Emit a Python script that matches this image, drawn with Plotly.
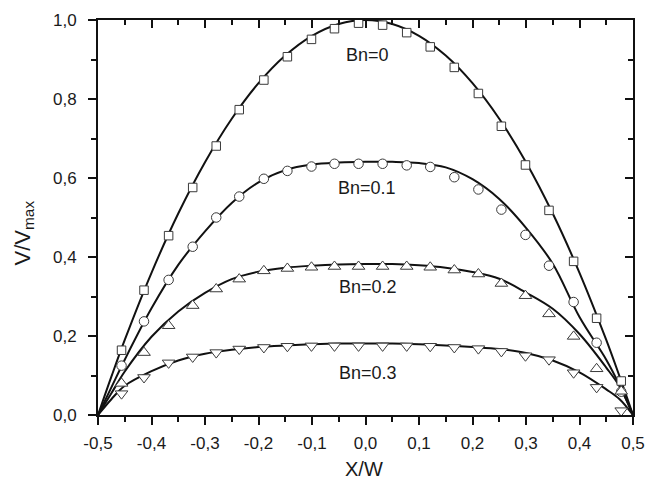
import plotly.graph_objects as go

# ---- measured marker data ----
x_pts = [-0.456, -0.414, -0.368, -0.323, -0.279, -0.236, -0.190, -0.146, -0.101, -0.058, -0.013,
         0.032, 0.077, 0.121, 0.166, 0.211, 0.254, 0.299, 0.343, 0.389, 0.432, 0.478]
bn0_pts = [0.164, 0.316, 0.454, 0.576, 0.681, 0.773, 0.848, 0.907, 0.951, 0.978, 0.992,
           0.987, 0.968, 0.932, 0.880, 0.814, 0.731, 0.633, 0.518, 0.389, 0.245, 0.086]
bn01_pts = [0.125, 0.237, 0.342, 0.426, 0.500, 0.553, 0.598, 0.618, 0.629, 0.636, 0.636,
            0.636, 0.632, 0.628, 0.602, 0.571, 0.520, 0.456, 0.378, 0.286, 0.183, 0.059]
bn02_pts = [0.080, 0.158, 0.226, 0.277, 0.319, 0.344, 0.365, 0.371, 0.374, 0.376, 0.376,
            0.376, 0.376, 0.374, 0.367, 0.357, 0.333, 0.302, 0.256, 0.199, 0.117, 0.060]
bn03_pts = [0.054, 0.095, 0.132, 0.147, 0.158, 0.167, 0.171, 0.174, 0.175, 0.175, 0.175,
            0.175, 0.175, 0.174, 0.171, 0.168, 0.161, 0.150, 0.140, 0.107, 0.070, 0.011]

# ---- measured curve data ----
x_curve = [-0.5, -0.475, -0.45, -0.4, -0.35, -0.3, -0.25, -0.2, -0.15, -0.1, -0.05, 0.0,
           0.05, 0.1, 0.15, 0.2, 0.25, 0.3, 0.35, 0.4, 0.45, 0.475, 0.5]
bn0_curve = [0.0, 0.097, 0.19, 0.36, 0.51, 0.64, 0.75, 0.84, 0.91, 0.96, 0.99, 1.0,
             0.99, 0.96, 0.91, 0.84, 0.75, 0.64, 0.51, 0.36, 0.19, 0.097, 0.0]
bn01_curve = [0.0, 0.07, 0.14, 0.27, 0.38, 0.465, 0.537, 0.589, 0.62, 0.634, 0.639, 0.641,
              0.641, 0.638, 0.627, 0.597, 0.547, 0.474, 0.383, 0.248, 0.14, 0.075, 0.0]
bn02_curve = [0.0, 0.055, 0.11, 0.198, 0.262, 0.309, 0.344, 0.363, 0.373, 0.378, 0.381, 0.382,
              0.382, 0.379, 0.373, 0.362, 0.345, 0.31, 0.269, 0.205, 0.12, 0.072, 0.0]
bn03_curve = [0.0, 0.04, 0.074, 0.111, 0.138, 0.155, 0.165, 0.172, 0.176, 0.179, 0.181, 0.181,
              0.181, 0.179, 0.176, 0.172, 0.167, 0.157, 0.138, 0.108, 0.065, 0.04, 0.0]

labels = ["Bn=0", "Bn=0.1", "Bn=0.2", "Bn=0.3"]
label_x = [0.004, 0.002, 0.004, 0.004]
label_y = [0.911, 0.574, 0.323, 0.107]

x_tickvals = [-0.5, -0.4, -0.3, -0.2, -0.1, 0.0, 0.1, 0.2, 0.3, 0.4, 0.5]
x_ticktext = ["-0,5", "-0,4", "-0,3", "-0,2", "-0,1", "0,0", "0,1", "0,2", "0,3", "0,4", "0,5"]
y_tickvals = [0.0, 0.2, 0.4, 0.6, 0.8, 1.0]
y_ticktext = ["0,0", "0,2", "0,4", "0,6", "0,8", "1,0"]

FONT = "Liberation Sans, Arial, sans-serif"
TXT = "#1a1a1a"

fig = go.Figure()
curves = [bn0_curve, bn01_curve, bn02_curve, bn03_curve]
for c in curves:
    fig.add_trace(go.Scatter(x=x_curve, y=c, mode="lines",
                             line=dict(color="#111111", width=2, shape="spline", smoothing=1.0),
                             showlegend=False, hoverinfo="skip"))

pts = [(bn0_pts, "square", 8.5), (bn01_pts, "circle", 9.5),
       (bn02_pts, "triangle-up", 11), (bn03_pts, "triangle-down", 11)]
for ys, sym, sz in pts:
    fig.add_trace(go.Scatter(x=x_pts, y=ys, mode="markers",
                             marker=dict(symbol=sym, size=sz, color="white",
                                         line=dict(color="#3a3a3a", width=1)),
                             showlegend=False))

# invisible trace so the mirrored (inward-tick) axes are drawn
fig.add_trace(go.Scatter(x=[0], y=[0], xaxis="x2", yaxis="y2", mode="markers",
                         marker=dict(size=1, opacity=0), showlegend=False, hoverinfo="skip"))

for t, lx, ly in zip(labels, label_x, label_y):
    fig.add_annotation(x=lx, y=ly, text=t, showarrow=False,
                       font=dict(family=FONT, size=18, color=TXT))

# axis titles as annotations
fig.add_annotation(xref="paper", yref="paper", x=-0.138, y=0.46, text="V/V<sub>max</sub>",
                   textangle=-90, showarrow=False, xanchor="center", yanchor="middle",
                   font=dict(family=FONT, size=22, color=TXT))
fig.add_annotation(xref="paper", yref="paper", x=0.497, y=-0.137, text="X/W",
                   showarrow=False, xanchor="center", yanchor="middle",
                   font=dict(family=FONT, size=20, color=TXT))

axis_common = dict(showline=True, linewidth=2, linecolor="#111111", showgrid=False,
                   zeroline=False, tickcolor="#111111", tickwidth=1.5, automargin=False)

# the page body adds an 8px offset, so margins are shifted by 8px
fig.update_layout(
    template="none",
    width=657, height=480,
    margin=dict(l=90, r=32, t=12, b=73, pad=0),
    paper_bgcolor="white", plot_bgcolor="white",
    font=dict(family=FONT, size=17, color=TXT),
    showlegend=False,
    xaxis=dict(range=[-0.5, 0.5], tickmode="array", tickvals=x_tickvals, ticktext=x_ticktext,
               ticks="outside", ticklen=8, tickfont=dict(family=FONT, size=17, color=TXT),
               ticklabelstandoff=4,
               minor=dict(ticks="outside", ticklen=5, tickmode="linear", tick0=0, dtick=0.05,
                          tickcolor="#111111", tickwidth=1.5),
               **axis_common),
    yaxis=dict(range=[0, 1.0], tickmode="array", tickvals=y_tickvals, ticktext=y_ticktext,
               ticks="outside", ticklen=8, tickfont=dict(family=FONT, size=17, color=TXT),
               ticklabelstandoff=8,
               minor=dict(ticks="outside", ticklen=5, tickmode="linear", tick0=0, dtick=0.1,
                          tickcolor="#111111", tickwidth=1.5),
               **axis_common),
    xaxis2=dict(range=[-0.5, 0.5], overlaying="x", side="top", showticklabels=False,
                tickmode="linear", tick0=0, dtick=0.1, ticks="inside", ticklen=8,
                minor=dict(ticks="inside", ticklen=5, tickmode="linear", tick0=0, dtick=0.05,
                           tickcolor="#111111", tickwidth=1.5),
                **axis_common),
    yaxis2=dict(range=[0, 1.0], overlaying="y", side="right", showticklabels=False,
                tickmode="linear", tick0=0, dtick=0.2, ticks="inside", ticklen=8,
                minor=dict(ticks="inside", ticklen=5, tickmode="linear", tick0=0, dtick=0.1,
                           tickcolor="#111111", tickwidth=1.5),
                **axis_common),
)

fig.write_html("out.html")
